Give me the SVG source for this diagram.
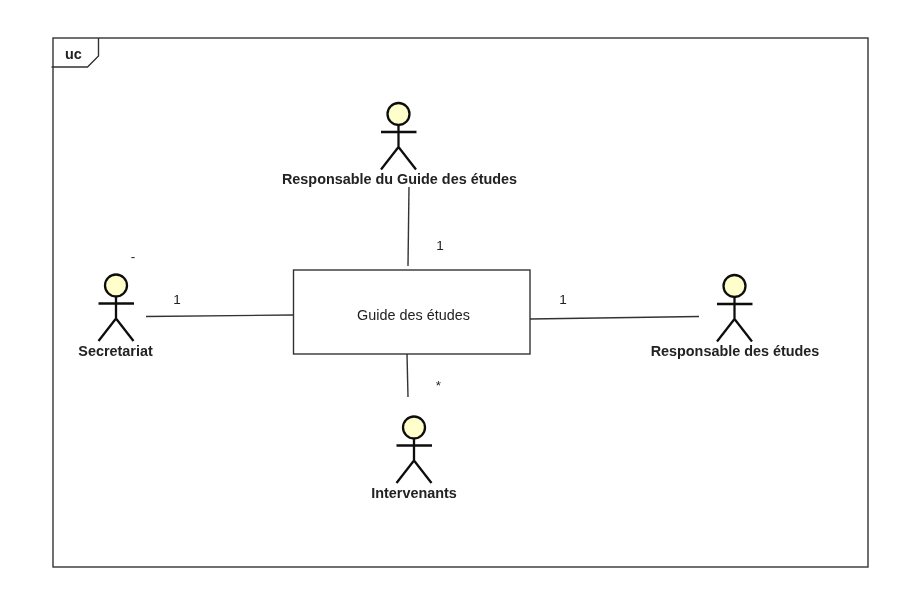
<svg xmlns="http://www.w3.org/2000/svg" width="910" height="604" viewBox="0 0 910 604">
<style>
text{font-family:"Liberation Sans",Arial,sans-serif;fill:#222;font-size:13.500px}
.b{font-weight:bold;text-anchor:middle;font-size:14.400px}
.g{font-size:14.400px}
.m{text-anchor:middle}
.f{fill:none;stroke:#333;stroke-width:1.400}
.c{fill:none;stroke:#333;stroke-width:1.400}
.head{fill:#ffffcc;stroke:#111;stroke-width:2.300}
.st{fill:none;stroke:#111;stroke-width:2.300}
</style>
<defs>
<filter id="soft" x="-5%" y="-5%" width="110%" height="110%"><feGaussianBlur stdDeviation="0.4"/></filter>
<g id="actor">
<circle class="head" cx="0" cy="0" r="11"/>
<path class="st" d="M0 11V33M-17.500 18H18M0 33L-17.500 55.500M0 33L17.500 55.500"/>
</g>
</defs>
<rect width="910" height="604" fill="#fff"/>
<g filter="url(#soft)">
<g id="frame">
<rect class="f" x="53" y="38" width="815" height="529"/>
<path class="f" d="M51.500 67H87.500L98.500 56V38"/>
<text x="65" y="59" font-weight="bold" style="font-size:14.400px">uc</text>
</g>
<g id="connectors">
<path class="c" d="M409 187L408 266"/>
<path class="c" d="M146 316.500L293 315"/>
<path class="c" d="M530 319L699 316.500"/>
<path class="c" d="M407 354L408 397"/>
</g>
<g id="guide">
<rect class="f" x="293.500" y="270" width="236.500" height="84"/>
<text class="m g" x="413.500" y="320">Guide des études</text>
</g>
<g id="responsable-guide">
<use href="#actor" x="398.500" y="114"/>
<text class="b" x="399.500" y="184">Responsable du Guide des études</text>
</g>
<g id="secretariat">
<use href="#actor" x="116" y="285.500"/>
<text class="b" x="115.500" y="356">Secretariat</text>
</g>
<g id="responsable-etudes">
<use href="#actor" x="734.500" y="286"/>
<text class="b" x="735" y="356">Responsable des études</text>
</g>
<g id="intervenants">
<use href="#actor" x="414" y="427.500"/>
<text class="b" x="414" y="498">Intervenants</text>
</g>
<g id="labels">
<text class="m" x="440" y="250">1</text>
<text class="m" x="177" y="304">1</text>
<text class="m" x="563" y="304">1</text>
<text class="m" x="438.500" y="390">*</text>
<text class="m" x="133" y="261">-</text>
</g>
</g>
</svg>
